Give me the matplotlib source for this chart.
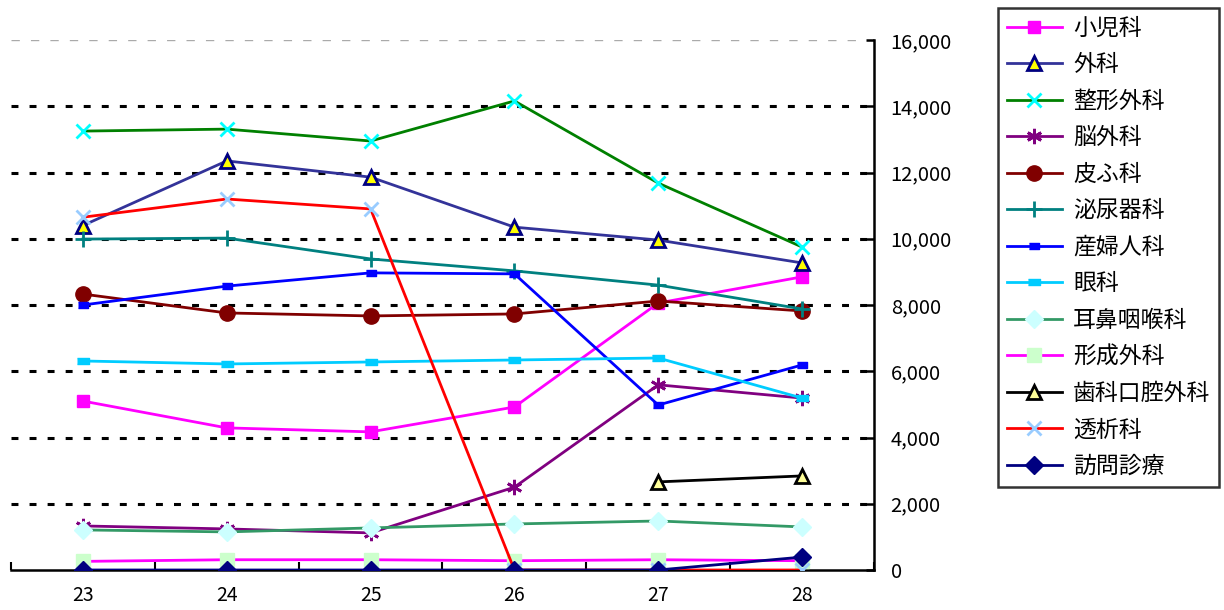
import numpy as np
import matplotlib.pyplot as plt
from matplotlib.ticker import FuncFormatter, FixedLocator

plt.rcParams['font.family'] = ['Noto Sans CJK JP', 'DejaVu Sans']
plt.rcParams['lines.scale_dashes'] = False

years = ['23', '24', '25', '26', '27', '28']
nan = np.nan

shouni = [5100, 4290, 4170, 4920, 8060, 8850]
geka = [10400, 12350, 11860, 10350, 9960, 9270]
seikei = [13250, 13310, 12950, 14160, 11680, 9750]
nou = [1330, 1240, 1120, 2500, 5590, 5190]
hifu = [8330, 7760, 7670, 7730, 8120, 7820]
hinyou = [9990, 10020, 9390, 9030, 8600, 7880]
sanfu = [8000, 8570, 8970, 8940, 4980, 6190]
ganka = [6310, 6220, 6280, 6340, 6400, 5190]
jibi = [1210, 1150, 1270, 1390, 1480, 1300]
keisei = [260, 310, 310, 280, 310, 280]
shika = [nan, nan, nan, nan, 2660, 2840]
touseki = [10650, 11200, 10900, 0, 0, 0]
houmon = [0, 0, 0, 0, 0, 390]

rect = [(-1, -0.55), (1, -0.55), (1, 0.55), (-1, 0.55)]

series = [
    ('小児科', shouni, dict(color='#ff00ff', marker='s', ms=9, mfc='#ff00ff', mec='#ff00ff')),
    ('外科', geka, dict(color='#333399', marker='^', ms=10, mfc='#ffff00', mec='#000080', mew=2)),
    ('整形外科', seikei, dict(color='#008000', marker='x', ms=10, mec='#00ffff', mew=2)),
    ('脳外科', nou, dict(color='#800080', marker=(6, 2, 0), ms=11, mec='#800080', mew=2)),
    ('皮ふ科', hifu, dict(color='#800000', marker='o', ms=11, mfc='#800000', mec='#800000')),
    ('泌尿器科', hinyou, dict(color='#008080', marker='+', ms=12, mec='#008080', mew=2)),
    ('産婦人科', sanfu, dict(color='#0000ff', marker=rect, ms=7, mfc='#0000ff', mec='#0000ff')),
    ('眼科', ganka, dict(color='#00ccff', marker=rect, ms=9, mfc='#00ccff', mec='#00ccff')),
    ('耳鼻咽喉科', jibi, dict(color='#339966', marker='D', ms=9, mfc='#ccffff', mec='#ccffff')),
    ('形成外科', keisei, dict(color='#ff00ff', marker='s', ms=10, mfc='#ccffcc', mec='#ccffcc')),
    ('歯科口腔外科', shika, dict(color='#000000', marker='^', ms=10, mfc='#ffff99', mec='#000000', mew=2)),
    ('透析科', touseki, dict(color='#ff0000', marker='x', ms=10, mec='#99ccff', mew=2)),
    ('訪問診療', houmon, dict(color='#000080', marker='D', ms=9, mfc='#000080', mec='#000080')),
]

fig = plt.figure(figsize=(12.24, 6.1), dpi=100)
ax = fig.add_axes([11 / 1224, 40 / 610, 863 / 1224, 530 / 610])

x = np.arange(len(years))
for v in range(2000, 16000, 2000):
    ax.axhline(v, color='black', lw=2.2, dashes=(5, 8), zorder=1)
ax.axhline(16000, color='#aaaaaa', lw=1, dashes=(6, 8), zorder=1)

for name, vals, st in series:
    ax.plot(x, vals, lw=2, label=name, zorder=3, **st)

ax.set_xlim(-0.5, 5.5)
ax.set_ylim(0, 16000)

for s in ['left', 'top']:
    ax.spines[s].set_visible(False)
ax.spines['right'].set_linewidth(1.8)
ax.spines['bottom'].set_linewidth(1.8)

ax.yaxis.tick_right()
ax.set_yticks(np.arange(0, 16001, 2000))
ax.yaxis.set_major_formatter(FuncFormatter(lambda v, p: f'{int(v):,}'))
ax.tick_params(axis='y', direction='in', length=6, width=1.8, labelsize=14.5, pad=12)

ax.xaxis.set_major_locator(FixedLocator(np.arange(-0.5, 5.6, 1)))
ax.xaxis.set_minor_locator(FixedLocator(x))
ax.xaxis.set_major_formatter(FuncFormatter(lambda v, p: ''))
ax.set_xticklabels(years, minor=True)
ax.tick_params(axis='x', which='major', direction='in', length=6, width=1.5)
ax.tick_params(axis='x', which='minor', length=0, labelsize=14, pad=11)

leg = fig.legend(loc='upper left', bbox_to_anchor=(998 / 1224, 1 - 8 / 610),
                 frameon=True, fancybox=False, fontsize=16.5, handlelength=2.4,
                 labelspacing=0.59, borderpad=0.38, handletextpad=0.5,
                 borderaxespad=0)
leg.get_frame().set_edgecolor('black')
leg.get_frame().set_linewidth(1.8)

fig.savefig('out.png', dpi=100)
